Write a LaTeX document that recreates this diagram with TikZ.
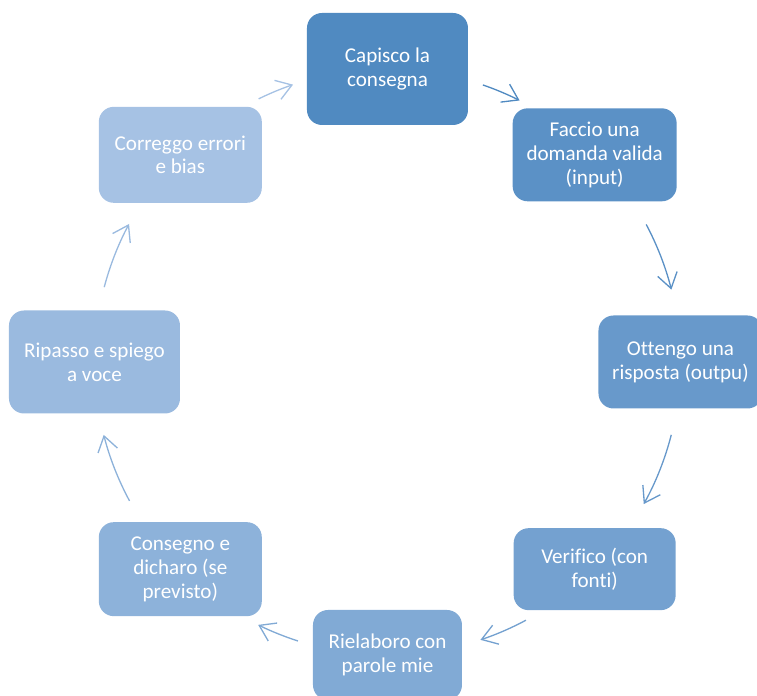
\documentclass[tikz,border=0pt]{standalone}
\usepackage{fontspec}
\setmainfont{Carlito}[Ligatures=NoCommon]
\usetikzlibrary{arrows.meta}
\definecolor{ca}{RGB}{80,138,193}
\definecolor{cb}{RGB}{91,145,198}
\definecolor{cc}{RGB}{104,153,203}
\definecolor{cd}{RGB}{116,161,208}
\definecolor{ce}{RGB}{129,170,213}
\definecolor{cf}{RGB}{141,178,218}
\definecolor{cg}{RGB}{154,186,223}
\definecolor{ch}{RGB}{166,194,228}
\begin{document}
\begin{tikzpicture}[
    phase/.style={rectangle, rounded corners=0.3cm, fill=#1, text=white,
      align=center, inner sep=0pt, font=\fontsize{12}{13.6}\selectfont},
    cyc/.style={draw=#1, line width=0.75pt,
      -{Straight Barb[length=3mm,width=4mm]}}]
  \clip (-7.75,-6.68) rectangle (7.39,7.24);
  \def\rr{5.86cm}
  \draw
    (90:\rr) node[phase=ca, minimum width=3.22cm, minimum height=2.24cm] (cap) {Capisco la\\consegna}
    (45:\rr) node[phase=cb, minimum width=3.28cm, minimum height=1.86cm] (fac) {Faccio una\\domanda valida\\(input)}
    (0:\rr) node[phase=cc, minimum width=3.28cm, minimum height=1.86cm] (ott) {Ottengo una\\risposta (outpu)}
    (-45:\rr) node[phase=cd, minimum width=3.24cm, minimum height=1.64cm] (ver) {Verifico (con\\fonti)}
    (-90:\rr) node[phase=ce, minimum width=2.98cm, minimum height=1.80cm] (rie) {Rielaboro con\\parole mie}
    (-135:\rr) node[phase=cf, minimum width=3.26cm, minimum height=1.88cm] (con) {Consegno e\\dicharo (se\\previsto)}
    (180:\rr) node[phase=cg, minimum width=3.42cm, minimum height=2.06cm] (rip) {Ripasso e spiego\\a voce}
    (135:\rr) node[phase=ch, minimum width=3.26cm, minimum height=1.92cm] (cor) {Correggo errori\\e bias};
  % arrows along the circle
  \coordinate (ab) at (71:\rr);
  \coordinate (bc) at (28:\rr);
  \coordinate (cd) at (-14.4:\rr);
  \coordinate (de) at (-61.8:\rr);
  \coordinate (ef) at (-107.8:\rr);
  \coordinate (fg) at (-151.7:\rr);
  \coordinate (gh) at (165.2:\rr);
  \coordinate (ha) at (116.1:\rr);
  \draw[cyc=ca] (ab) arc[start angle=71, end angle=63.2, radius=\rr];
  \draw[cyc=cb] (bc) arc[start angle=28, end angle=14.3, radius=\rr];
  \draw[cyc=cc] (cd) arc[start angle=-14.4, end angle=-29, radius=\rr];
  \draw[cyc=cd] (de) arc[start angle=-61.8, end angle=-71.5, radius=\rr];
  \draw[cyc=ce] (ef) arc[start angle=-107.8, end angle=-116.2, radius=\rr];
  \draw[cyc=cf] (fg) arc[start angle=-151.7, end angle=-165.6, radius=\rr];
  \draw[cyc=cg] (gh) arc[start angle=165.2, end angle=151.9, radius=\rr];
  \draw[cyc=ch] (ha) arc[start angle=116.1, end angle=108.8, radius=\rr];
\end{tikzpicture}
\end{document}
